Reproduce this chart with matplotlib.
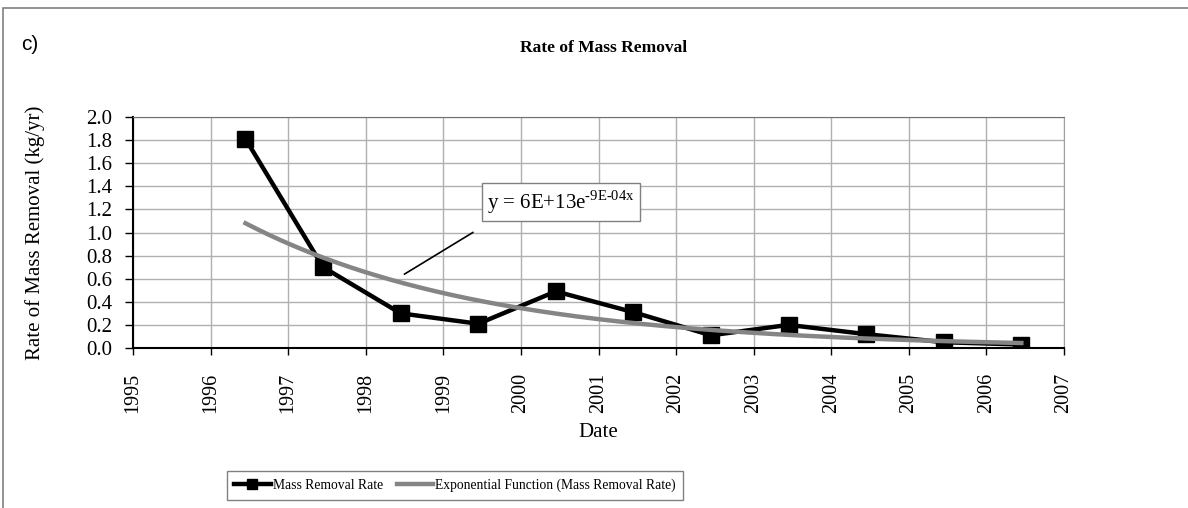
import numpy as np
import matplotlib
matplotlib.use("Agg")
import matplotlib.pyplot as plt
from matplotlib.patches import Rectangle

# Datos (fechas a mitad de año)
years = [1996.45, 1997.45, 1998.45, 1999.45, 2000.45, 2001.45,
         2002.45, 2003.45, 2004.45, 2005.45, 2006.45]
rate = [1.81, 0.70, 0.30, 0.21, 0.49, 0.31, 0.11, 0.20, 0.12, 0.05, 0.03]
year_ticks = list(range(1995, 2008))
y_ticks = [0.0, 0.2, 0.4, 0.6, 0.8, 1.0, 1.2, 1.4, 1.6, 1.8, 2.0]

serif = "Liberation Serif"
plt.rcParams["mathtext.fontset"] = "custom"
plt.rcParams["mathtext.rm"] = serif

fig = plt.figure(figsize=(11.88, 5.08), dpi=100)
ax = fig.add_axes([133 / 1188, 1 - 348 / 508, (1064 - 133) / 1188, (348 - 117) / 508])

# Ajuste exponencial (como la línea de tendencia de Excel)
x = np.array(years)
yv = np.array(rate)
b, a = np.polyfit(x - x[0], np.log(yv), 1)
xf = np.linspace(x[0], x[-1], 200)
yf = np.exp(a + b * (xf - x[0]))

ax.plot(x, yv, color="black", lw=3.2, marker="s", markersize=11.5,
        label="Mass Removal Rate", zorder=3)
ax.plot(xf, yf, color="#858585", lw=3.2,
        label="Exponential Function (Mass Removal Rate)", zorder=4)

ax.set_xlim(1995, 2007)
ax.set_ylim(0, 2.0)
ax.set_xticks(year_ticks)
ax.set_xticklabels([str(t) for t in year_ticks], rotation=90,
                   fontfamily=serif, fontsize=14.5)
ax.set_yticks(y_ticks)
ax.set_yticklabels([f"{t:.1f}" for t in y_ticks], fontfamily=serif, fontsize=15)
ax.tick_params(axis="x", direction="out", length=5, width=1, pad=13)
ax.tick_params(axis="y", direction="out", length=6, width=1, pad=9)

ax.grid(True, color="#b0b0b0", lw=1)
ax.set_axisbelow(True)
for s in ["left", "bottom"]:
    ax.spines[s].set_color("black")
    ax.spines[s].set_linewidth(1.5)
ax.spines["top"].set_color("#707070")
ax.spines["right"].set_color("#a0a0a0")

ax.set_xlabel("Date", fontfamily=serif, fontsize=15)
ax.xaxis.set_label_coords(0.5, -0.325)
ax.set_ylabel("Rate of Mass Removal (kg/yr)", fontfamily=serif, fontsize=15)
ax.yaxis.set_label_coords(-0.0945, 0.5)

# Ecuación de la tendencia con línea guía
ax.plot([1998.5, 1999.38], [0.64, 1.0], color="black", lw=1.2, zorder=5)
ax.text(2000.52, 1.26, r"y = 6E+13e$^{\text{-9E-04x}}$",
        fontfamily=serif, fontsize=15, ha="center", va="center", zorder=6,
        bbox=dict(boxstyle="square,pad=0.25", fc="white", ec="#808080", lw=1))

fig.text(604 / 1188, 1 - 48 / 508, "Rate of Mass Removal", fontfamily=serif,
         fontsize=12.5, fontweight="bold", ha="center", va="center")
fig.text(21 / 1188, 1 - 45 / 508, "c)", fontfamily="Liberation Sans",
         fontsize=15, ha="left", va="center")

leg = fig.legend(loc="center", bbox_to_anchor=(455 / 1188, 1 - 485.5 / 508),
                 ncol=2, frameon=True, fancybox=False, framealpha=1,
                 edgecolor="#808080", handlelength=2.7, markerscale=0.65,
                 columnspacing=1.0, handletextpad=0.15, borderpad=0.55,
                 prop={"family": serif, "size": 9.8})
leg.get_frame().set_linewidth(1)

# Marco exterior del gráfico
fig.patches.append(Rectangle((3 / 1188, -0.05), 1.2, 1 - 8 / 508 + 0.05,
                             transform=fig.transFigure, fill=False,
                             ec="#808080", lw=1.2))

fig.savefig("out.png", dpi=100)
